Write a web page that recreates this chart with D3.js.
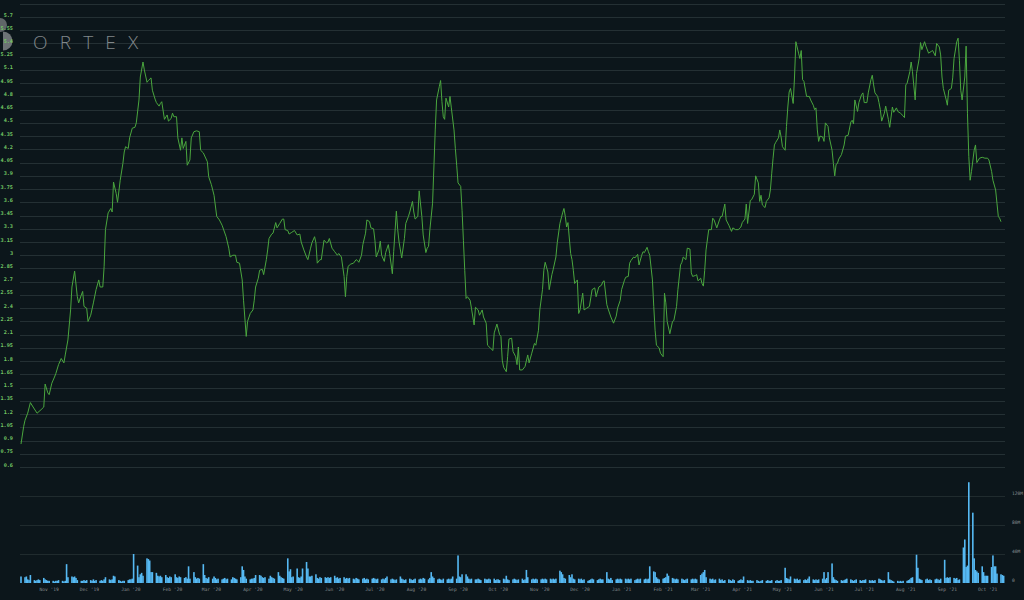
<!DOCTYPE html>
<html><head><meta charset="utf-8">
<script src="https://cdn.jsdelivr.net/npm/d3@7"></script>
<style>html,body{margin:0;padding:0;background:#0c161b;overflow:hidden}svg{display:block}</style>
</head><body>
<svg id="chart" width="1024" height="600"></svg>
<script>
// ---------- DATA ----------
const startDate = "2019-10-11";   // first day of the series
const endDate = "2021-10-14";
// price series: calendar days since startDate, and closing price
const priceDays = [0,2,3,5,7,9,12,15,17,18,20,21,23,25,26,28,30,32,33,35,37,38,40,42,43,45,46,47,49,50,52,54,56,58,59,61,62,63,65,67,68,69,71,72,74,76,77,78,80,81,83,85,86,88,89,91,92,94,95,97,98,100,101,103,104,105,107,109,110,112,113,114,116,117,119,120,121,123,124,126,127,129,131,133,134,136,139,140,142,144,146,148,150,153,155,156,158,160,161,163,165,166,168,169,171,173,174,175,177,178,180,181,183,184,185,187,188,190,191,193,195,196,197,199,200,202,204,206,208,209,211,213,214,216,217,219,220,221,223,224,226,228,229,230,232,234,236,237,239,241,242,243,244,245,246,248,250,251,252,254,255,257,258,260,261,263,264,265,267,268,269,271,272,274,275,277,278,280,281,282,284,286,287,289,290,292,293,294,296,297,299,300,302,303,304,305,307,308,309,310,312,313,314,315,316,317,319,320,321,323,324,325,326,328,329,330,331,332,333,335,336,338,339,341,342,344,345,347,348,350,352,353,355,357,358,359,360,362,363,364,366,367,369,370,371,372,374,376,378,379,381,383,384,386,387,389,390,391,393,394,396,397,399,400,402,404,405,406,407,408,410,411,412,413,415,416,417,419,420,422,424,426,428,429,431,433,434,435,437,438,440,442,444,445,447,448,450,451,453,454,455,457,458,460,461,463,464,465,467,468,469,471,472,473,474,476,477,479,480,481,482,484,486,487,489,490,492,493,494,496,497,499,500,501,503,504,505,507,508,509,510,511,513,515,516,517,519,521,522,523,525,526,528,530,531,533,535,537,538,540,541,542,544,545,547,548,550,551,552,553,555,556,558,559,560,561,562,563,565,566,567,568,570,571,572,573,574,576,577,578,580,581,582,583,584,586,588,589,591,592,593,594,595,596,598,599,600,602,603,605,606,607,608,609,610,612,614,615,617,619,620,621,622,624,625,627,628,629,631,632,634,635,636,637,639,640,641,642,644,645,647,648,650,651,653,654,656,658,659,660,661,663,664,665,667,668,670,671,672,674,675,677,679,680,682,683,685,686,687,688,690,691,692,694,695,696,698,699,700,701,702,704,705,706,707,708,709,711,712,713,715,717,719,721,722,724,725,727,728,729,730,731];
const priceValues = [0.86,1.06,1.13,1.21,1.33,1.28,1.21,1.25,1.28,1.54,1.44,1.42,1.55,1.62,1.66,1.76,1.83,1.78,1.87,2.04,2.38,2.64,2.82,2.53,2.46,2.55,2.59,2.42,2.40,2.25,2.32,2.46,2.61,2.72,2.64,2.64,2.87,3.29,3.48,3.53,3.49,3.83,3.70,3.60,3.85,4.04,4.17,4.23,4.21,4.33,4.44,4.45,4.50,4.76,5.02,5.19,5.10,4.96,4.98,5.01,4.87,4.77,4.73,4.69,4.72,4.74,4.54,4.59,4.52,4.55,4.61,4.57,4.57,4.33,4.19,4.33,4.21,4.29,4.02,4.08,4.33,4.40,4.41,4.40,4.19,4.16,4.06,3.89,3.80,3.68,3.44,3.40,3.34,3.21,3.08,2.98,3.00,3.00,2.92,2.91,2.72,2.49,2.08,2.25,2.34,2.38,2.49,2.64,2.74,2.83,2.84,2.78,2.95,3.06,3.19,3.24,3.25,3.37,3.31,3.36,3.41,3.41,3.29,3.28,3.24,3.26,3.28,3.23,3.24,3.15,3.06,2.98,2.95,3.08,3.14,3.21,3.14,2.91,2.95,2.95,3.17,3.14,3.15,3.19,3.08,3.04,3.00,3.02,2.98,2.76,2.53,2.76,2.87,2.89,2.90,2.91,2.95,2.94,2.92,3.00,3.12,3.25,3.40,3.38,3.31,3.30,3.17,2.98,3.06,3.16,3.00,2.93,3.03,3.12,3.02,2.79,3.04,3.50,3.29,3.15,2.97,3.19,3.36,3.44,3.49,3.61,3.49,3.41,3.44,3.73,3.44,3.23,3.03,3.08,3.10,3.29,3.59,4.00,4.42,4.76,4.91,4.98,4.74,4.57,4.54,4.78,4.68,4.80,4.67,4.42,4.21,4.02,3.82,3.78,3.51,3.17,2.83,2.51,2.53,2.49,2.40,2.21,2.41,2.38,2.32,2.38,2.30,2.23,1.98,1.95,1.92,2.12,2.22,2.10,2.08,1.81,1.73,1.68,1.85,2.05,2.06,1.91,1.85,1.76,1.96,1.70,1.70,1.74,1.87,1.78,1.89,2.00,1.98,2.15,2.38,2.61,2.83,2.92,2.81,2.61,2.78,2.84,2.98,3.14,3.36,3.48,3.53,3.44,3.32,3.37,3.02,2.95,2.83,2.68,2.72,2.34,2.38,2.57,2.38,2.40,2.42,2.61,2.63,2.53,2.64,2.66,2.70,2.71,2.44,2.39,2.30,2.23,2.31,2.40,2.49,2.61,2.71,2.75,2.76,2.91,2.94,2.98,2.97,3.01,2.89,3.00,3.04,3.03,3.09,3.04,3.00,2.72,2.42,2.15,1.98,1.95,1.89,1.85,2.57,2.46,2.25,2.11,2.25,2.26,2.42,2.61,2.89,2.92,2.98,2.95,3.08,3.07,2.80,2.76,2.77,2.78,2.71,2.74,2.68,2.65,2.83,3.06,3.29,3.29,3.42,3.40,3.31,3.40,3.44,3.44,3.58,3.40,3.34,3.27,3.31,3.29,3.29,3.32,3.37,3.41,3.58,3.36,3.62,3.63,3.69,3.90,3.82,3.61,3.68,3.57,3.54,3.61,3.65,3.74,3.93,4.10,4.25,4.28,4.33,4.42,4.34,4.23,4.19,4.46,4.68,4.85,4.89,4.72,5.02,5.42,5.29,5.23,5.32,4.99,4.97,4.80,4.80,4.76,4.70,4.65,4.67,4.42,4.29,4.35,4.34,4.29,4.50,4.46,4.33,4.19,4.04,3.90,4.03,4.04,4.09,4.14,4.25,4.35,4.36,4.51,4.53,4.49,4.76,4.63,4.73,4.82,4.84,4.73,4.73,4.84,4.99,5.04,4.93,4.84,4.80,4.73,4.65,4.52,4.61,4.69,4.54,4.45,4.68,4.62,4.67,4.63,4.61,4.58,4.56,4.93,4.95,5.08,5.19,5.08,4.76,5.06,5.23,5.41,5.33,5.42,5.37,5.29,5.31,5.32,5.26,5.40,5.36,5.27,5.02,4.89,4.77,4.70,4.87,4.89,5.01,5.23,5.42,5.46,5.21,4.87,4.76,5.02,5.37,4.61,4.12,3.85,3.95,4.19,4.25,4.05,4.10,4.11,4.10,4.10,4.08,3.95,3.85,3.74,3.59,3.44,3.42,3.38];
// daily volume (millions of shares), one value per weekday from startDate
const volumes = [
 9,8,9,5,4,11,4,3,4,5,4,7,5,4,3,
 3,3,2,3,3,4,3,2,3,26,8,9,8,9,7,4,3,3,4,3,4,
 4,3,5,3,4,3,4,3,5,8,5,4,5,10,9,4,3,2,3,3,4,5,
 5,6,40,24,8,12,14,10,34,33,31,15,15,14,10,9,10,8,11,8,7,9,8,
 12,8,7,9,8,7,8,6,23,6,15,8,6,7,6,26,11,7,6,8,
 6,9,7,5,6,5,6,7,5,6,5,8,7,6,5,8,23,18,9,6,5,6,
 6,7,11,11,10,8,7,8,6,10,8,7,6,15,10,8,7,6,34,16,19,8,
 9,20,8,7,9,20,29,20,9,9,10,12,7,6,8,7,8,7,8,7,8,
 10,7,8,6,7,8,6,7,6,7,6,5,7,6,5,6,7,5,6,5,6,7,
 6,5,6,5,6,5,7,9,5,6,5,4,5,9,6,5,4,5,6,5,4,5,6,
 5,6,5,7,6,5,7,15,9,7,5,6,5,4,6,5,6,5,6,9,6,
 38,9,8,12,12,9,6,5,6,5,5,6,5,4,6,5,5,6,5,6,4,5,
 5,4,6,5,10,5,4,5,6,5,4,5,6,4,5,18,8,5,6,5,6,5,
 5,6,5,6,5,6,5,6,5,6,17,15,12,7,6,11,8,12,6,5,6,
 5,6,4,5,3,4,5,6,5,4,5,6,5,5,15,6,5,7,4,5,6,5,6,
 5,6,5,6,5,6,4,5,6,5,6,5,6,5,6,23,16,15,8,6,5,
 6,7,8,13,10,7,6,5,6,5,6,5,4,5,6,5,6,5,6,5,
 11,13,15,18,8,6,5,6,4,5,6,4,5,3,4,5,4,3,5,4,3,4,5,
 4,9,4,3,4,3,3,4,3,2,3,4,3,4,3,3,4,3,4,3,3,4,
 21,7,6,5,9,6,5,6,4,5,4,5,4,6,9,5,4,5,4,5,6,
 15,5,7,15,27,8,5,4,3,4,3,4,5,6,5,4,3,4,5,4,3,4,
 4,5,4,3,4,3,4,6,5,4,3,4,15,5,4,3,2,3,2,3,2,3,
 3,4,5,7,8,39,21,6,5,4,5,6,4,5,4,5,6,5,4,6,32,7,
 8,7,8,7,6,7,4,5,49,60,22,24,139,97,34,18,16,14,23,15,10,10,
 10,22,38,23,23,13,12,11,10
];
const priceTicks = [5.7,5.55,5.4,5.25,5.1,4.95,4.8,4.65,4.5,4.35,4.2,4.05,3.9,3.75,3.6,3.45,3.3,3.15,3,2.85,2.7,2.55,2.4,2.25,2.1,1.95,1.8,1.65,1.5,1.35,1.2,1.05,0.9,0.75,0.6];
const volumeTicks = [0, 40, 80, 120];
const monthTicks = ["2019-11-01","2019-12-01","2020-01-01","2020-02-01","2020-03-01","2020-04-01","2020-05-01","2020-06-01","2020-07-01","2020-08-01","2020-09-01","2020-10-01","2020-11-01","2020-12-01","2021-01-01","2021-02-01","2021-03-01","2021-04-01","2021-05-01","2021-06-01","2021-07-01","2021-08-01","2021-09-01","2021-10-01"];
const brand = "ORTEX";

// ---------- DRAW ----------
const parse = d3.timeParse("%Y-%m-%d");
const t0 = parse(startDate), t1 = parse(endDate);
const svg = d3.select("#chart");
svg.append("rect").attr("width",1024).attr("height",600).attr("fill","#0c161b");

const x = d3.scaleTime().domain([t0, t1]).range([21, 1005]);
const y = d3.scaleLinear().domain([0.6, 5.7]).range([467, 17]);
const yv = d3.scaleLinear().domain([0, 120]).range([583, 496]);

const gridL = 20, gridR = 1005;
// price gridlines (include one step above top tick)
const gridVals = [5.85].concat(priceTicks);
svg.append("g").selectAll("line").data(gridVals).join("line")
  .attr("x1", gridL).attr("x2", gridR)
  .attr("y1", d => Math.round(y(d)) + 0.5).attr("y2", d => Math.round(y(d)) + 0.5)
  .attr("stroke", "#243034").attr("stroke-width", 1);

// logo (drawn beneath the axis labels)
const logo = svg.append("g");
logo.append("circle").attr("cx", 0).attr("cy", 25).attr("r", 7).attr("fill", "#5f6568");
logo.append("path").attr("d", d3.arc()({innerRadius: 0, outerRadius: 9.5, startAngle: 0, endAngle: Math.PI}))
  .attr("transform", "translate(3,41)").attr("fill", "#6d7376");
logo.append("text").attr("x", 33).attr("y", 48.5)
  .attr("font-family", "'Open Sans', sans-serif").attr("font-weight", 300).attr("font-size", 19)
  .attr("letter-spacing", 12.2).attr("fill", "#80878a")
  .text(brand);

// price labels
svg.append("g").selectAll("text").data(priceTicks).join("text")
  .attr("x", 13).attr("y", d => y(d) - 0.5)
  .attr("text-anchor", "end")
  .attr("font-family", "'DejaVu Sans Mono', monospace").attr("font-size", 5.2).attr("font-weight", "bold")
  .attr("fill", "#74c865")
  .text(d => d);

// volume gridlines
svg.append("g").selectAll("line").data(volumeTicks.filter(v => v > 0)).join("line")
  .attr("x1", gridL).attr("x2", gridR)
  .attr("y1", d => Math.round(yv(d)) + 0.5).attr("y2", d => Math.round(yv(d)) + 0.5)
  .attr("stroke", "#202b2e").attr("stroke-width", 1);

svg.append("g").selectAll("text").data(volumeTicks).join("text")
  .attr("x", 1012).attr("y", d => yv(d) - 1.5)
  .attr("font-family", "'DejaVu Sans Mono', monospace").attr("font-size", 4.6)
  .attr("fill", "#8a9092")
  .text(d => d === 0 ? "0" : d + "M");

// volume bars on weekdays
const weekdays = d3.timeDay.range(t0, t1).filter(d => d.getDay() % 6 !== 0);
const bars = weekdays.map((d, i) => ({date: d, v: volumes[i]})).filter(b => b.v !== undefined);
svg.append("g").selectAll("rect").data(bars).join("rect")
  .attr("x", b => x(b.date) - 0.8).attr("width", 1.6)
  .attr("y", b => yv(b.v)).attr("height", b => yv(0) - yv(b.v))
  .attr("fill", "#56b9f3");

// x-axis month labels
const fmt = d3.timeFormat("%b '%y");
svg.append("g").selectAll("text").data(monthTicks.map(parse)).join("text")
  .attr("x", d => x(d)).attr("y", 591)
  .attr("text-anchor", "middle")
  .attr("font-family", "'DejaVu Sans Mono', monospace").attr("font-size", 4.6)
  .attr("fill", "#868c8f")
  .text(d => fmt(d));

// price line
const pts = priceDays.map((d, i) => ({date: d3.timeDay.offset(t0, d), v: priceValues[i]}));
svg.append("path").datum(pts)
  .attr("fill", "none").attr("stroke", "#4aa63e").attr("stroke-width", 1)
  .attr("stroke-linejoin", "round")
  .attr("d", d3.line().x(p => x(p.date)).y(p => y(p.v)));
</script>
</body></html>
